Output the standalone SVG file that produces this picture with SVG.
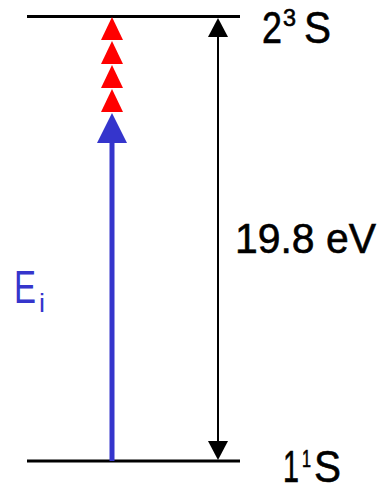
<svg xmlns="http://www.w3.org/2000/svg" width="381" height="485" viewBox="0 0 381 485">
<style>
.lvl{stroke:#000;stroke-width:3;fill:none}
.t{font-family:"Liberation Sans",Arial,sans-serif;fill:#000;stroke:#000;stroke-width:0.6}
.blue{fill:#3535cc}
.tb{font-family:"Liberation Sans",Arial,sans-serif;fill:#3535cc}
.red{fill:#ff0000}
</style>
<rect width="381" height="485" fill="#fff"/>
<g id="level-top">
<line class="lvl" x1="27" y1="16.5" x2="240" y2="16.5"/>
<text class="t" font-size="44"><tspan x="262" y="43" textLength="20" lengthAdjust="spacingAndGlyphs">2</tspan><tspan x="283" y="26" font-size="23" textLength="13" lengthAdjust="spacingAndGlyphs">3</tspan><tspan x="304" y="43" textLength="27" lengthAdjust="spacingAndGlyphs">S</tspan></text>
</g>
<g id="level-bottom">
<line class="lvl" x1="27" y1="461" x2="240" y2="461"/>
<text class="t" font-size="44"><tspan x="283" y="482" textLength="16" lengthAdjust="spacingAndGlyphs">1</tspan><tspan x="302" y="467" font-size="23" textLength="9" lengthAdjust="spacingAndGlyphs">1</tspan><tspan x="314" y="482" textLength="27" lengthAdjust="spacingAndGlyphs">S</tspan></text>
</g>
<g id="connectors">
<g id="excitation">
<line x1="112" y1="140" x2="112" y2="461" stroke="#3535cc" stroke-width="5"/>
<polygon class="blue" points="112,113 97,143 127,143"/>
<polygon class="red" points="112,89 101,112 123,112"/>
<polygon class="red" points="112,65 101,88 123,88"/>
<polygon class="red" points="112,41 101,64 123,64"/>
<polygon class="red" points="112,17 101,40 123,40"/>
</g>
<g id="energy-gap">
<line x1="218" y1="35" x2="218" y2="442" stroke="#000" stroke-width="2"/>
<polygon points="218,18 208,37 228,37" fill="#000"/>
<polygon points="218,460 208,441 228,441" fill="#000"/>
</g>
</g>
<g id="label-energy">
<text class="t" x="235" y="253" font-size="43" textLength="141" lengthAdjust="spacingAndGlyphs">19.8 eV</text>
</g>
<g id="label-Ei">
<text class="tb" font-size="46"><tspan x="14" y="303" textLength="22" lengthAdjust="spacingAndGlyphs">E</tspan><tspan x="39" y="312" font-size="26" textLength="6" lengthAdjust="spacingAndGlyphs">i</tspan></text>
</g>
</svg>
